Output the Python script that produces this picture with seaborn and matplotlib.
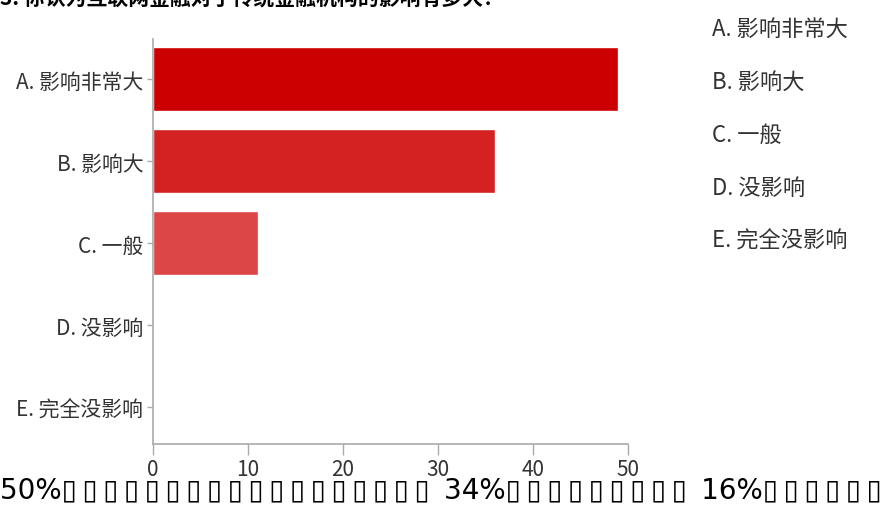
import matplotlib
matplotlib.use("Agg")
import matplotlib.pyplot as plt
import seaborn as sns
import pandas as pd
from matplotlib.patches import Patch

# data
categories = ["A. 影响非常大", "B. 影响大", "C. 一般", "D. 没影响", "E. 完全没影响"]
counts = [49, 36, 11, 0, 0]
xticks = [0, 10, 20, 30, 40, 50]
bar_colors = ["#cc0000", "#d42121", "#dc4646", "#e46c6c", "#ec9292"]

title_text = "3. 你认为互联网金融对于传统金融机构的影响有多大？"
box = "▯\u2009"
footer_text = ("50%" + box * 18 + " " + "34%" + box * 9 + " "
               + "16%" + box * 7)

df = pd.DataFrame({"option": categories, "count": counts})

sns.set_style("white")
plt.rcParams["font.family"] = ["Noto Sans CJK SC", "DejaVu Sans"]

fig = plt.figure(figsize=(8.87, 5.06), dpi=100)
ax = fig.add_axes([0.1725, 0.1206, 0.5355, 0.8004])

sns.barplot(data=df, x="count", y="option", hue="option", palette=bar_colors,
            saturation=1, legend=False, width=0.78, orient="h", ax=ax)

ax.set_xlim(0, 50)
ax.set_ylim(4.45, -0.49)
ax.set_xticks(xticks)
ax.set_xticklabels([str(t) for t in xticks], fontsize=15, color="#333333")
ax.set_yticks(range(len(categories)))
ax.set_yticklabels(categories, fontsize=15, color="#333333")
ax.set_xlabel("")
ax.set_ylabel("")

for side in ["top", "right"]:
    ax.spines[side].set_visible(False)
for side in ["left", "bottom"]:
    ax.spines[side].set_color("#aaaaaa")
    ax.spines[side].set_linewidth(1.2)
ax.tick_params(axis="x", bottom=True, length=8, width=1, color="#aaaaaa", pad=2)
ax.tick_params(axis="y", left=True, length=4, width=1, color="#aaaaaa", pad=3)

# text-only legend on the right
handles = [Patch(visible=False) for _ in categories]
fig.legend(handles, categories, loc="upper left", bbox_to_anchor=(0.78, 1.005),
           frameon=False, handlelength=0, handletextpad=0, labelspacing=1.35,
           prop={"family": ["Noto Sans CJK SC", "DejaVu Sans"], "size": 16},
           labelcolor="#333333")

# title cut off at the top edge
fig.text(0.0, 1.004, title_text, fontsize=15, fontweight="bold", va="center",
         ha="left", color="black")

# footer text overlapping the ticks
fig.text(0.0, 0.004, footer_text, fontsize=20, family="DejaVu Sans",
         ha="left", va="bottom", color="black")

fig.savefig("out.png", dpi=100)
